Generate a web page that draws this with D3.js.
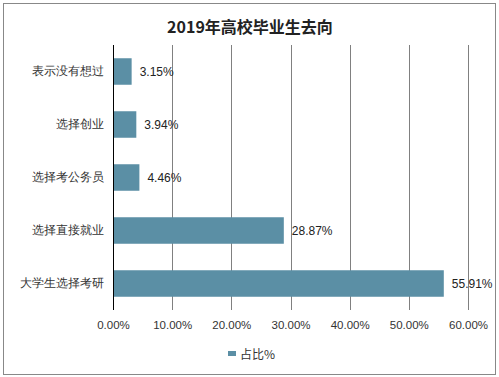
<!DOCTYPE html>
<html><head><meta charset="utf-8">
<script src="https://cdn.jsdelivr.net/npm/d3@7"></script>
<style>body{margin:0;background:#fff}svg{display:block;font-family:"Microsoft YaHei","Noto Sans CJK SC",sans-serif}</style>
</head><body><svg id="c" width="499" height="377"></svg>
<script>
const categories = ["表示没有想过","选择创业","选择考公务员","选择直接就业","大学生选择考研"];
const values = [3.15, 3.94, 4.46, 28.87, 55.91];
const ticks = [0,10,20,30,40,50,60];
const title = "2019年高校毕业生去向";
const legendLabel = "占比%";

const svg = d3.select("#c");
const W=499,H=377;
const m={l:113,r:31,t:45,b:67};
svg.append("rect").attr("x",3.5).attr("y",3.5).attr("width",492).attr("height",371).attr("fill","#fff").attr("stroke","#888").attr("stroke-width",1);

const x=d3.scaleLinear().domain([0,60]).range([m.l,W-m.r]);
const y=d3.scaleBand().domain(categories).range([m.t,H-m.b]).paddingInner(0.5).paddingOuter(0.25);

svg.append("text").attr("x",250).attr("y",33).attr("text-anchor","middle").attr("font-size",16).attr("font-weight","bold").attr("fill","#222").text(title);

// grid
svg.append("g").selectAll("line").data(ticks.slice(1)).join("line")
 .attr("x1",d=>Math.round(x(d))+0.5).attr("x2",d=>Math.round(x(d))+0.5)
 .attr("y1",m.t).attr("y2",H-m.b).attr("stroke","#808080").attr("stroke-width",1);

// x axis labels
const xa=svg.append("g").attr("transform",`translate(0,${H-m.b})`).call(d3.axisBottom(x).tickValues(ticks).tickSize(0).tickPadding(9).tickFormat(d=>d.toFixed(2)+"%"));
xa.select(".domain").remove();
xa.selectAll("text").attr("font-size",11.5).attr("fill","#333").attr("font-family","Arial,'Liberation Sans',sans-serif").attr("dy","0.9em");

// bars
svg.append("g").selectAll("rect").data(values).join("rect")
 .attr("x",x(0)).attr("y",(d,i)=>y(categories[i])).attr("width",d=>x(d)-x(0)).attr("height",y.bandwidth()).attr("fill","#5b8fa5");

// value labels
svg.append("g").selectAll("text").data(values).join("text")
 .attr("x",d=>x(d)+8).attr("y",(d,i)=>y(categories[i])+y.bandwidth()/2).attr("dy","0.35em")
 .attr("font-size",12).attr("fill","#222").attr("font-family","Arial,'Liberation Sans',sans-serif").text(d=>d.toFixed(2)+"%");

// y axis
const ya=svg.append("g").attr("transform",`translate(${m.l+0.5},0)`).call(d3.axisLeft(y).tickSize(0).tickPadding(10));
ya.select(".domain").attr("stroke","#000").attr("d",`M0,${m.t}V${H-m.b}`);
ya.selectAll("text").attr("font-size",12).attr("fill","#333");

// legend
const lg=svg.append("g").attr("transform","translate(228,355)");
lg.append("rect").attr("x",0).attr("y",-4).attr("width",8).attr("height",5).attr("fill","#5b8fa5");
lg.append("text").attr("x",12).attr("y",0).attr("dy","0.35em").attr("font-size",12).attr("fill","#333").text(legendLabel);
</script></body></html>
